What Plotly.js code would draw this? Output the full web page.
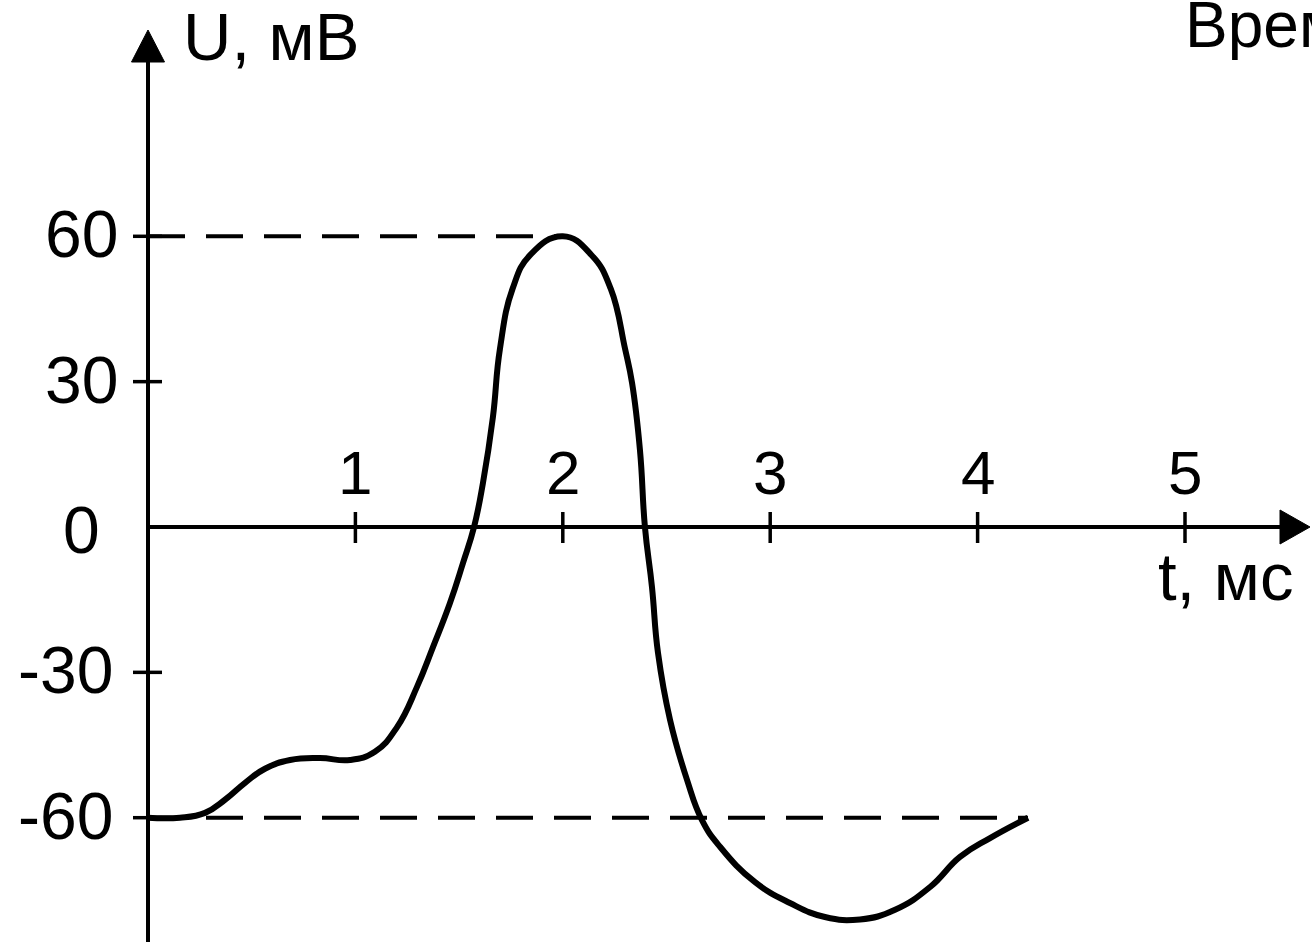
<!DOCTYPE html>
<html>
<head>
<meta charset="utf-8">
<script src="https://cdn.plot.ly/plotly-3.0.1.min.js"></script>
<style>
  html, body { margin: 0; padding: 0; background: #ffffff; }
  #chart { width: 1312px; height: 946px; }
</style>
</head>
<body>
<div id="chart"></div>
<script>
// Action potential: membrane voltage U (mV) against time t (ms)
const timeMs = [0, 0.154, 0.275, 0.371, 0.468, 0.564, 0.685, 0.829, 0.974, 1.094, 1.201, 1.297, 1.374, 1.456, 1.519, 1.572,
                1.615, 1.663, 1.697, 1.758, 1.842, 2.0, 2.139, 2.231, 2.300, 2.334, 2.372, 2.396, 2.430, 2.459, 2.517, 2.599, 2.671,
                2.758, 2.927, 3.095, 3.264, 3.433, 3.602, 3.771, 3.915, 4.060, 4.243];
const voltageMv = [-60, -60, -59, -56.3, -52.8, -49.9, -48.1, -47.7, -48.1, -46.4, -41.3, -33, -24.8, -15.7, -7.4, 0,
                   9.1, 22.7, 36.8, 49.2, 56.1, 60, 56.1, 49.2, 36.8, 29.7, 15.9, 0, -12.4, -26, -39.8, -52.2, -60.5,
                   -66, -73.3, -77.6, -80.5, -81, -79, -74.3, -68.1, -64.2, -60];

const restingMv = -60;   // resting potential reference level
const peakMv = 60;       // overshoot peak reference level

const xTicks = [1, 2, 3, 4, 5];
const xTickLabels = ['1', '2', '3', '4', '5'];
const yTicks = [60, 30, 0, -30, -60];
const yTickLabels = ['60', '30', '0', '-30', '-60'];

const yAxisTitle = 'U, мВ';
const xAxisTitle = 't, мс';
const cornerText = 'Время';

// page geometry: origin location and scale in pixels
const W = 1312, H = 946;
const ORIGIN_X = 148, ORIGIN_Y = 527;
const PX_PER_MS = 207.4, PX_PER_MV = 4.845;

const xRange = [-ORIGIN_X / PX_PER_MS, (W - ORIGIN_X) / PX_PER_MS];
const yRange = [-(H - ORIGIN_Y) / PX_PER_MV, ORIGIN_Y / PX_PER_MV];
const dx = p => p / PX_PER_MS;   // pixels -> ms
const dy = p => p / PX_PER_MV;   // pixels -> mV

const FONT = 'Liberation Sans, Arial, sans-serif';
const INK = '#000000';

const shapes = [];
const annotations = [];

// axes with arrowheads
const xTip = xRange[1] - dx(2), xBase = xTip - dx(30);
const yTip = yRange[1] - dy(30), yBase = yTip - dy(32);
shapes.push({type: 'line', xref: 'x', yref: 'y', x0: 0, x1: xBase + dx(2), y0: 0, y1: 0,
             line: {color: INK, width: 4}});
shapes.push({type: 'line', xref: 'x', yref: 'y', x0: 0, x1: 0, y0: yRange[0] + dy(4), y1: yBase + dy(2),
             line: {color: INK, width: 4}});
shapes.push({type: 'path', xref: 'x', yref: 'y',
             path: `M ${xBase},${dy(17)} L ${xTip},0 L ${xBase},${-dy(17)} Z`,
             fillcolor: INK, line: {color: INK, width: 1}});
shapes.push({type: 'path', xref: 'x', yref: 'y',
             path: `M ${-dx(16.5)},${yBase} L 0,${yTip} L ${dx(16.5)},${yBase} Z`,
             fillcolor: INK, line: {color: INK, width: 1}});

// tick marks crossing the axes
xTicks.forEach(t => shapes.push({type: 'line', xref: 'x', yref: 'y', x0: t, x1: t,
  y0: -dy(16), y1: dy(15), line: {color: INK, width: 3.5}}));
yTicks.filter(v => v !== 0).forEach(v => shapes.push({type: 'line', xref: 'x', yref: 'y',
  x0: -dx(15), x1: dx(14), y0: v, y1: v, line: {color: INK, width: 3.5}}));

// dashed reference levels, running from the axis to where the curve meets them
const peakIdx = voltageMv.indexOf(Math.max(...voltageMv));
const dashStyle = {color: INK, width: 4, dash: '37px,21px'};
const refLines = [
  {x: [0, timeMs[peakIdx]], y: [peakMv, peakMv]},
  {x: [0, timeMs[timeMs.length - 1]], y: [restingMv, restingMv]}
].map(d => ({type: 'scatter', mode: 'lines', x: d.x, y: d.y, line: dashStyle,
             hoverinfo: 'skip', showlegend: false}));

// tick labels
xTicks.forEach((t, i) => annotations.push({xref: 'x', yref: 'y', x: t, y: 0, text: xTickLabels[i],
  showarrow: false, xanchor: 'center', yanchor: 'middle', yshift: 55,
  font: {family: FONT, size: 62, color: INK}}));
yTicks.forEach((v, i) => annotations.push({xref: 'x', yref: 'y', x: 0, y: v, text: yTickLabels[i],
  showarrow: false, xanchor: 'right', yanchor: 'middle',
  xshift: v === 0 ? -46 : (v < 0 ? -33 : -28), yshift: v === 0 ? -3 : 2,
  font: {family: FONT, size: 66, color: INK}}));

// axis names and heading
annotations.push({xref: 'paper', yref: 'paper', x: 181 / W, y: 1, text: yAxisTitle, showarrow: false,
  xanchor: 'left', yanchor: 'top', yshift: 3, font: {family: FONT, size: 67, color: INK}});
annotations.push({xref: 'paper', yref: 'y', x: 1156 / W, y: 0, text: xAxisTitle, showarrow: false,
  xanchor: 'left', yanchor: 'top', yshift: -10, font: {family: FONT, size: 67, color: INK}});
annotations.push({xref: 'paper', yref: 'paper', x: 1183 / W, y: 1, text: cornerText, showarrow: false,
  xanchor: 'left', yanchor: 'top', yshift: 13, font: {family: FONT, size: 64, color: INK}});

const potential = {
  type: 'scatter', mode: 'lines', x: timeMs, y: voltageMv,
  line: {color: INK, width: 6, shape: 'spline', smoothing: 1.3},
  hoverinfo: 'x+y', showlegend: false
};

const hidden = {showgrid: false, zeroline: false, showline: false, showticklabels: false, ticks: '', fixedrange: true};

Plotly.newPlot('chart', [...refLines, potential], {
  width: W, height: H,
  margin: {l: 0, r: 0, t: 0, b: 0, pad: 0},
  paper_bgcolor: '#ffffff', plot_bgcolor: '#ffffff',
  xaxis: Object.assign({range: xRange}, hidden),
  yaxis: Object.assign({range: yRange}, hidden),
  shapes: shapes,
  annotations: annotations,
  showlegend: false
}, {displayModeBar: false, staticPlot: true});
</script>
</body>
</html>
